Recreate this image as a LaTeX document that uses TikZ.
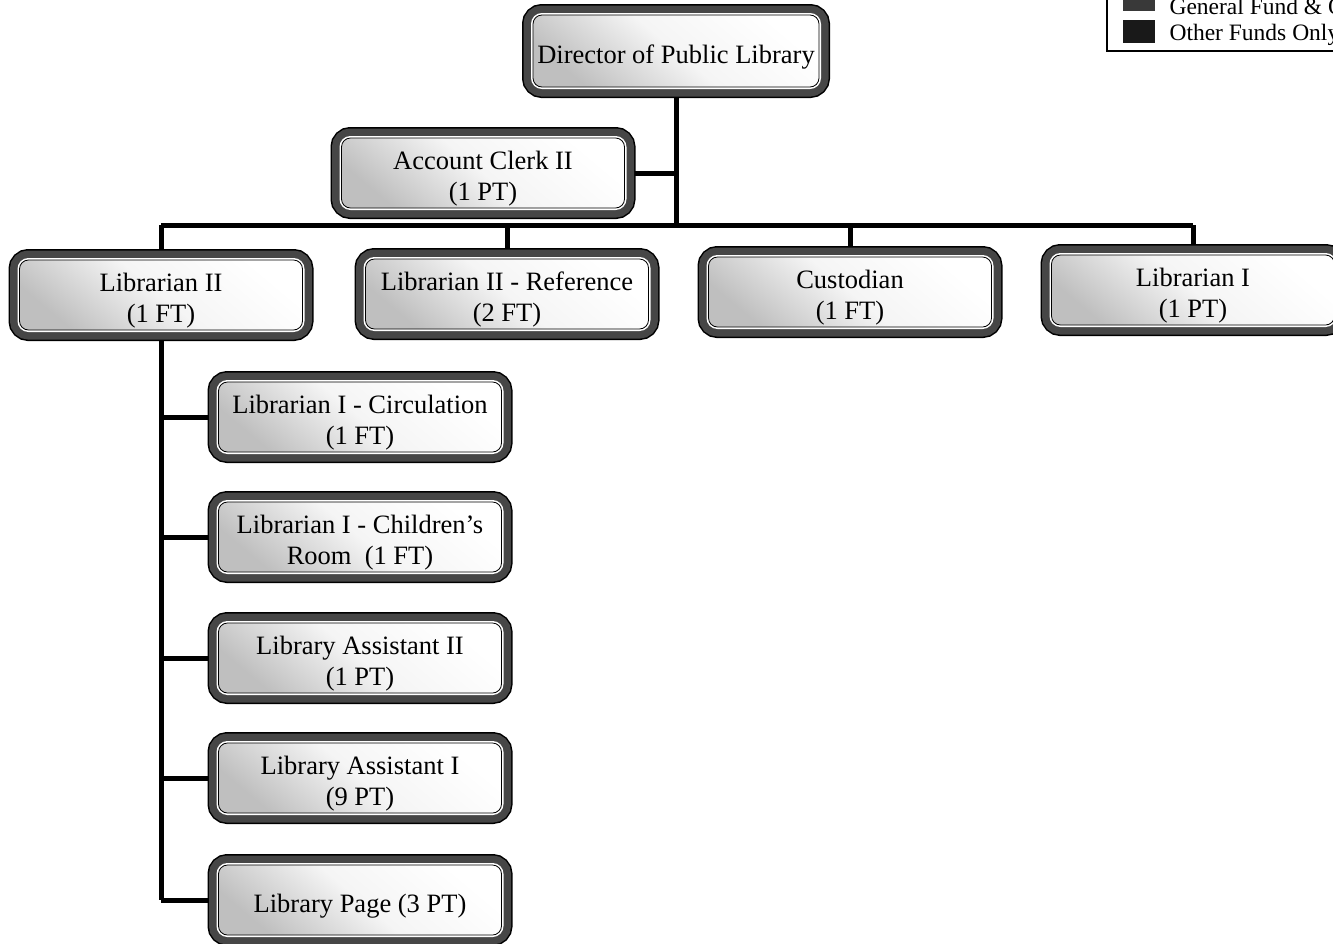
\documentclass[tikz,border=0pt]{standalone}
\usepackage{fontspec}
\setmainfont{Liberation Serif}
\usepackage{tikz}

\pgfdeclarelayer{background}
\pgfsetlayers{background,main}

\tikzset{
    posbox/.style={rounded corners=9pt, minimum width=283pt, minimum height=70pt,
        inner sep=2pt, align=center, font=\fontsize{26.5}{31}\selectfont,
        text height=60pt,
        preaction={draw=black, line width=22pt},
        preaction={draw=gray!55!black, line width=19pt},
        preaction={draw=white, line width=4pt},
        draw=black, line width=0.8pt,
        top color=white, bottom color=gray!50, middle color=gray!8, shading angle=-40},
    oneline/.style={text height=30pt},
    link/.style={line width=5pt},
    keytext/.style={anchor=west, font=\fontsize{23.5}{27}\selectfont},
}

\begin{document}
\begin{tikzpicture}[x=1pt, y=-1pt]
    \useasboundingbox (0,0) rectangle (1333,943);
    \clip (0,0) rectangle (1333,943);

    % legend (cut at the page edge)
    \draw[line width=1.3pt] (1107,-40) rectangle (1380,51);
    \fill[gray!45!black] (1123,-12) rectangle (1155,11);
    \fill[gray!20!black] (1123,20) rectangle (1155,43);
    \node[keytext] (keyboth) at (1166,6) {General Fund \& Other Funds};
    \node[keytext] (keyother) at (1166,35) {Other Funds Only};

    % top
    \node[posbox, oneline, minimum width=286pt, minimum height=72pt] (dir) at (676,51) {Director of Public Library};
    \node[posbox] (clerk) at (483,173) {Account Clerk II\\(1 PT)};

    % second row
    \node[posbox] (lib2) at (161,295) {Librarian II\\(1 FT)};
    \node[posbox] (ref) at (507,294) {Librarian II - Reference\\(2 FT)};
    \node[posbox] (cust) at (850,292) {Custodian\\(1 FT)};
    \node[posbox] (lib1) at (1193,290) {Librarian I\\(1 PT)};

    % under Librarian II
    \node[posbox] (circ) at (360,417) {Librarian I - Circulation\\(1 FT)};
    \node[posbox] (child) at (360,537) {Librarian I - Children's\\Room\ \ (1 FT)};
    \node[posbox] (asst2) at (360,658) {Library Assistant II\\(1 PT)};
    \node[posbox] (asst1) at (360,778) {Library Assistant I\\(9 PT)};
    \node[posbox, oneline] (page) at (360,900) {Library Page (3 PT)};

    \begin{pgfonlayer}{background}
        \coordinate (busL) at (161,225);
        \coordinate (busR) at (1193,225);
        \draw[link] (busL) -- (busR);
        \draw[link] (dir.south) -- (dir.south |- busL);
        \draw[link] (clerk.east) -- (clerk.east -| dir.south);

        \draw[link] (lib2.north |- busL) -- (lib2.north);
        \draw[link] (ref.north |- busL) -- (ref.north);
        \draw[link] (cust.north |- busL) -- (cust.north);
        \draw[link] (lib1.north |- busL) -- (lib1.north);

        \draw[link] (lib2.south) -- (lib2.south |- page.west);
        \draw[link] (lib2.south |- circ.west) -- (circ.west);
        \draw[link] (lib2.south |- child.west) -- (child.west);
        \draw[link] (lib2.south |- asst2.west) -- (asst2.west);
        \draw[link] (lib2.south |- asst1.west) -- (asst1.west);
        \draw[link] (lib2.south |- page.west) -- (page.west);
    \end{pgfonlayer}
\end{tikzpicture}
\end{document}
